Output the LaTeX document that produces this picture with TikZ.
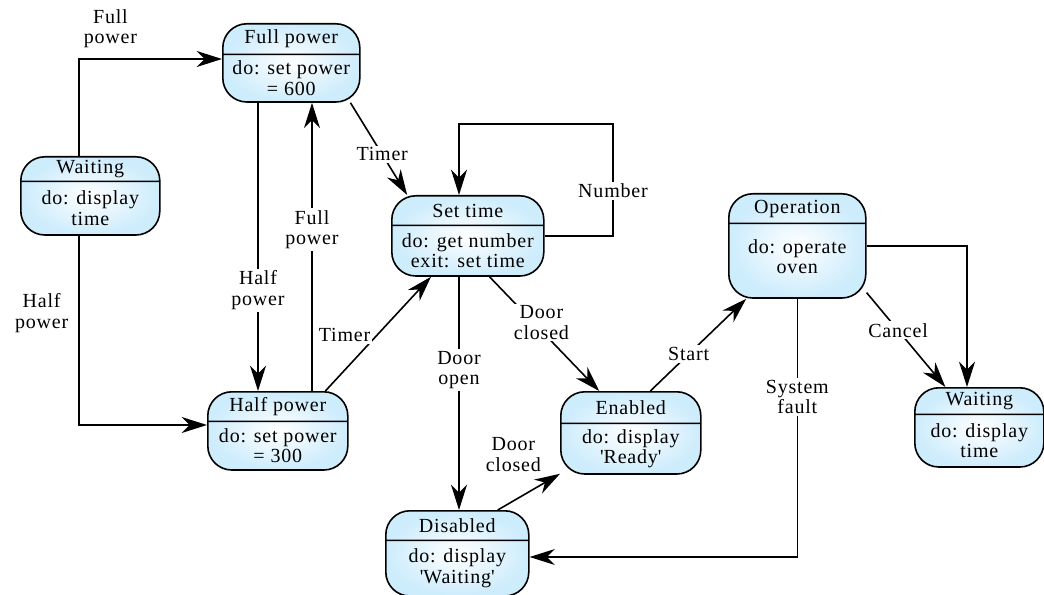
\documentclass[tikz,border=0pt]{standalone}
\usepackage{fontspec}
\setmainfont{Liberation Serif}[LetterSpace=4]
\usetikzlibrary{shapes.multipart,arrows.meta,positioning}
\definecolor{stblue}{RGB}{205,236,252}
\newlength{\spx}\setlength{\spx}{0.75pt}
\newcommand{\stbox}[3]{\parbox[c][#2\spx][c]{#1\spx}{\centering #3}}
\tikzstyle{state}=[rectangle split, rectangle split parts=2, draw, line width=1.2pt,
  rounded corners=18pt, inner sep=0pt, anchor=north west, inner color=white, outer color=stblue]
\tikzstyle{tr}=[-{Stealth[length=19pt,width=12pt,inset=6pt]}, line width=1.2pt]
\tikzstyle{lbl}=[fill=white, inner sep=1.5pt, align=center]

\begin{document}
\begin{tikzpicture}[x=0.75pt, y=-0.75pt, font=\fontsize{15}{15.5}\selectfont]
  \useasboundingbox (0,0) rectangle (1044,595);

  \node[state] (fullpw) at (222,23) {\stbox{137}{29}{Full power}\nodepart{two}\stbox{137}{46}{do: set power\\= 600}};
  \node[state] (waitl) at (20,156) {\stbox{139}{23}{Waiting}\nodepart{two}\stbox{139}{52}{do: display\\time}};
  \node[state] (settime) at (391,195) {\stbox{152}{28}{Set time}\nodepart{two}\stbox{152}{49}{do: get number\\exit: set time}};
  \node[state] (halfpw) at (207,391) {\stbox{140}{28}{Half power}\nodepart{two}\stbox{140}{47}{do: set power\\= 300}};
  \node[state] (enabled) at (560,391) {\stbox{140}{30}{Enabled}\nodepart{two}\stbox{140}{49}{do: display\\\textquotesingle Ready\textquotesingle}};
  \node[state] (disabled) at (385,510) {\stbox{143}{28}{Disabled}\nodepart{two}\stbox{143}{54}{do: display\\\textquotesingle Waiting\textquotesingle}};
  \node[state] (operation) at (728,193) {\stbox{137}{28}{Operation}\nodepart{two}\stbox{137}{73}{do: operate\\oven\\[6pt]}};
  \node[state] (waitr) at (914,387) {\stbox{129}{25}{Waiting}\nodepart{two}\stbox{129}{51}{do: display\\time}};

  \coordinate (c1) at (79,59);
  \coordinate (c2) at (79,425);
  \coordinate (c3) at (258,0);
  \coordinate (c4) at (312,0);
  \coordinate (c5) at (613,124);
  \coordinate (c6) at (459,0);
  \coordinate (c7) at (797,557);
  \coordinate (c8) at (967,244);

  \draw[tr] (waitl.north -| c1) -- (c1) -- node[lbl,pos=0.22,above=6pt] {Full\\power} (fullpw.west |- c1);
  \draw[tr] (waitl.south -| c2) -- node[lbl,pos=0.41,left=6pt] {Half\\power} (c2) -- (halfpw.west |- c2);
  \path (fullpw.south -| c3) edge[tr] node[lbl,pos=0.65] {Half\\power} (halfpw.north -| c3);
  \path (halfpw.north -| c4) edge[tr] node[lbl,pos=0.56] {Full\\power} (fullpw.south -| c4);
  \path (fullpw.-34) edge[tr] node[lbl,pos=0.56] {Timer} (settime.146);
  \path (halfpw.40) edge[tr] node[lbl,pos=0.49,left=3pt] {Timer} (settime.228);
  \draw[tr] (settime.east) -| node[lbl,pos=0.7] {Number} (c5) -| (settime.north -| c6);
  \path (settime.south -| c6) edge[tr] node[lbl,pos=0.4] {Door\\open} (disabled.north -| c6);
  \path (settime.-62) edge[tr] node[lbl,pos=0.4,xshift=6pt] {Door\\closed} (enabled.127);
  \path (disabled.47) edge[tr] node[lbl,pos=0.25,above=20pt] {Door\\closed} (enabled.210);
  \path (enabled.65) edge[tr] node[lbl,pos=0.4] {Start} (operation.226);
  \draw[tr] (operation.south) |- node[lbl,pos=0.19] {System\\fault} (disabled.east |- c7);
  \path (operation.-34) edge[tr] node[lbl,pos=0.4] {Cancel} (waitr.130);
  \draw[tr] (operation.east) -| (waitr.north -| c8);
\end{tikzpicture}
\end{document}
